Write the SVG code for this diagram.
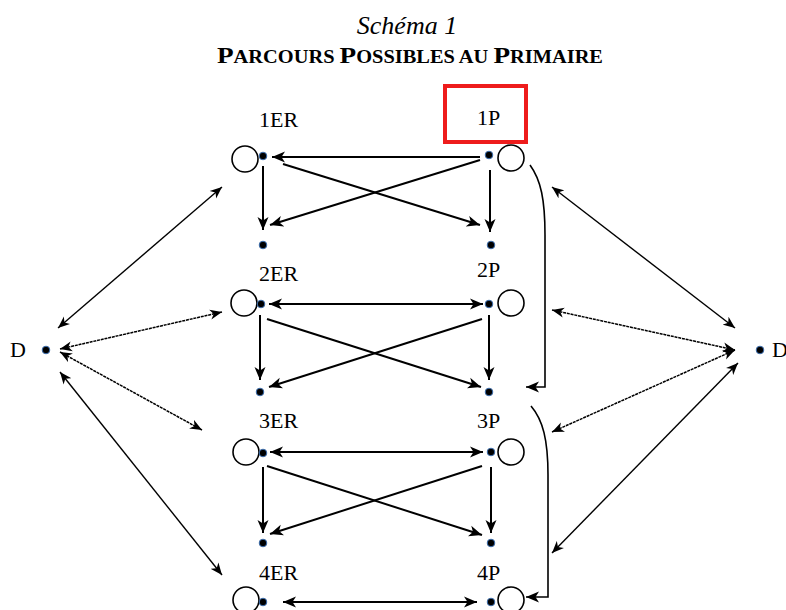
<svg xmlns="http://www.w3.org/2000/svg" width="786" height="610" viewBox="0 0 786 610">
<defs>
<style>
text{font-family:"Liberation Serif","Times New Roman",serif;fill:#000}
.lbl{font-size:22px}
.ring{fill:#fff;stroke:#000;stroke-width:1.6}
.dot{fill:#000;stroke:#3d6fb0;stroke-width:1}
.a{fill:none;stroke:#000;stroke-width:2;marker-end:url(#ah)}
.aa{fill:none;stroke:#000;stroke-width:2;marker-start:url(#ah);marker-end:url(#ah)}
.d{fill:none;stroke:#000;stroke-width:1.4;marker-start:url(#as);marker-end:url(#as)}
.dd{fill:none;stroke:#000;stroke-width:1.5;stroke-dasharray:3 0.8;marker-start:url(#as);marker-end:url(#as)}
.br{fill:none;stroke:#000;stroke-width:1.6;marker-end:url(#ah)}
</style>
<marker id="ah" markerUnits="userSpaceOnUse" markerWidth="14" markerHeight="12" refX="13" refY="6" orient="auto-start-reverse"><path d="M0,0.5 L13,6 L0,11.5 L3.5,6 z" fill="#000"/></marker>
<marker id="as" markerUnits="userSpaceOnUse" markerWidth="13" markerHeight="11" refX="12" refY="5.5" orient="auto-start-reverse"><path d="M0,0.5 L12,5.5 L0,10.5 L3.5,5.5 z" fill="#000"/></marker>
</defs>
<g id="title">
<text x="407" y="34" font-size="26" font-style="italic" text-anchor="middle">Schéma 1</text>
<text x="410" y="63" font-weight="bold" text-anchor="middle" textLength="386" lengthAdjust="spacingAndGlyphs"><tspan font-size="24">P</tspan><tspan font-size="18">ARCOURS </tspan><tspan font-size="24">P</tspan><tspan font-size="18">OSSIBLES AU </tspan><tspan font-size="24">P</tspan><tspan font-size="18">RIMAIRE</tspan></text>
</g>
<g id="connectors">
<line class="a" x1="480" y1="157" x2="272" y2="157"/>
<line class="a" x1="283" y1="164" x2="480" y2="225"/>
<line class="a" x1="480" y1="160" x2="270" y2="225"/>
<line class="a" x1="263" y1="166" x2="263" y2="230"/>
<line class="a" x1="490" y1="170" x2="490" y2="232"/>
<line class="aa" x1="269" y1="304" x2="483" y2="304"/>
<line class="a" x1="267" y1="319" x2="481" y2="387"/>
<line class="a" x1="482" y1="319" x2="269" y2="387"/>
<line class="a" x1="260" y1="315" x2="260" y2="380"/>
<line class="a" x1="489" y1="315" x2="489" y2="380"/>
<line class="aa" x1="270" y1="452" x2="483" y2="452"/>
<line class="a" x1="267" y1="466" x2="482" y2="535"/>
<line class="a" x1="482" y1="466" x2="270" y2="534"/>
<line class="a" x1="263" y1="467" x2="263" y2="533"/>
<line class="a" x1="491" y1="467" x2="491" y2="533"/>
<line class="aa" x1="283" y1="602" x2="477" y2="602"/>
<path class="br" d="M530,165 C541,180 545,200 545,235 L545,387 L526,387"/>
<path class="br" d="M531,406 C543,420 548,440 548,475 L548,597 L526,597"/>
<line class="d" x1="58" y1="328" x2="222" y2="187"/>
<line class="dd" x1="60" y1="349" x2="222" y2="312"/>
<line class="dd" x1="60" y1="352" x2="202" y2="430"/>
<line class="d" x1="60" y1="372" x2="222" y2="575"/>
<line class="d" x1="552" y1="187" x2="735" y2="328"/>
<line class="dd" x1="552" y1="310" x2="735" y2="350"/>
<line class="dd" x1="552" y1="432" x2="735" y2="350"/>
<line class="d" x1="552" y1="553" x2="738" y2="363"/>
</g>
<g id="n1ER"><circle class="ring" cx="245" cy="159" r="13"/><circle class="dot" cx="263" cy="156" r="3.8"/><text class="lbl" x="259" y="127">1ER</text></g>
<g id="n1P"><rect x="445" y="86" width="81" height="56" fill="none" stroke="#ee1c1c" stroke-width="4"/><circle class="ring" cx="511" cy="158" r="13"/><circle class="dot" cx="489" cy="155" r="3.8"/><text class="lbl" x="477" y="125">1P</text></g>
<g id="e1ER"><circle class="dot" cx="263" cy="245" r="3.8"/></g>
<g id="e1P"><circle class="dot" cx="491" cy="245" r="3.8"/></g>
<g id="n2ER"><circle class="ring" cx="244" cy="303" r="13"/><circle class="dot" cx="261" cy="304" r="3.8"/><text class="lbl" x="259" y="281">2ER</text></g>
<g id="n2P"><circle class="ring" cx="511" cy="303" r="13"/><circle class="dot" cx="489" cy="304" r="3.8"/><text class="lbl" x="477" y="277">2P</text></g>
<g id="e2ER"><circle class="dot" cx="260" cy="392" r="3.8"/></g>
<g id="e2P"><circle class="dot" cx="489" cy="392" r="3.8"/></g>
<g id="n3ER"><circle class="ring" cx="246" cy="452" r="13"/><circle class="dot" cx="263" cy="453" r="3.8"/><text class="lbl" x="259" y="428">3ER</text></g>
<g id="n3P"><circle class="ring" cx="511" cy="452" r="13"/><circle class="dot" cx="491" cy="452" r="3.8"/><text class="lbl" x="477" y="428">3P</text></g>
<g id="e3ER"><circle class="dot" cx="263" cy="543" r="3.8"/></g>
<g id="e3P"><circle class="dot" cx="491" cy="543" r="3.8"/></g>
<g id="n4ER"><circle class="ring" cx="246" cy="600" r="13"/><circle class="dot" cx="263" cy="602" r="3.8"/><text class="lbl" x="259" y="580">4ER</text></g>
<g id="n4P"><circle class="ring" cx="511" cy="600" r="13"/><circle class="dot" cx="491" cy="602" r="3.8"/><text class="lbl" x="477" y="580">4P</text></g>
<g id="DL"><circle class="dot" cx="46" cy="350" r="3.8"/><text class="lbl" x="10" y="357">D</text></g>
<g id="DR"><circle class="dot" cx="760" cy="350" r="3.8"/><text class="lbl" x="772" y="357">D</text></g>
</svg>
